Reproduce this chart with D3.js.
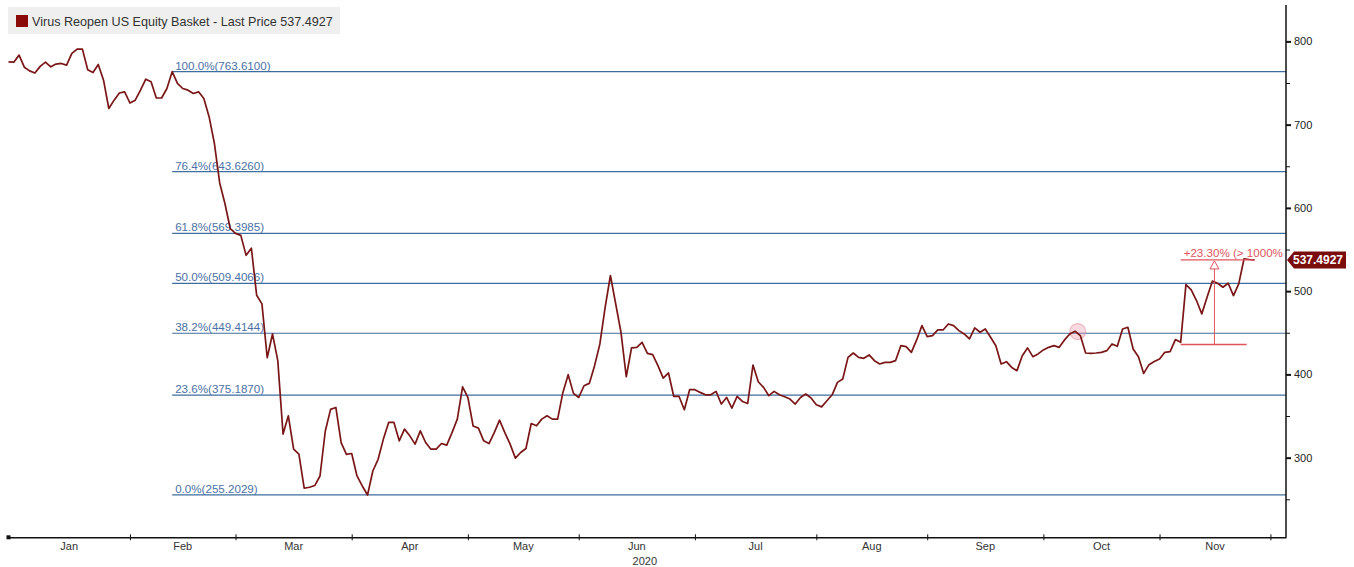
<!DOCTYPE html>
<html><head><meta charset="utf-8">
<script src="https://cdn.jsdelivr.net/npm/d3@7"></script>
<style>
body{margin:0;background:#fff;}
svg{display:block;font-family:"Liberation Sans",Arial,sans-serif;}
</style>
</head><body>
<svg id="chart" width="1354" height="567"></svg>
<script>
// ---------- data ----------
const seriesName = "Virus Reopen US Equity Basket - Last Price 537.4927";
const startDate = "2020-01-01";   // first weekday of the series (one value per weekday)
const values = [
775.5,775,783.5,769,764.6,762,770,775,769.5,772.7,
773.5,771.5,785.5,790.7,790.7,766,762.6,772.3,753.4,719.4,
729.4,738,739.4,726,729.4,741.4,754.6,751.4,732,732,
743.4,763.61,749.5,743.4,741.4,737.4,739.4,731.4,709.3,677.3,
630,605,575,569.4,567,543,551.6,495,484.7,420,
448.6,416.5,328.3,350.3,310.2,304.2,263.3,264.5,266.5,278,
332,358,360.3,318,304,305,278,266,255.2,284,
298,322.3,342.3,342.3,320.2,334.3,326.2,316.3,332.2,318.2,
310.2,310.2,317,315,330,346.3,385,372.3,338,335.5,
320.2,317,330,345,330,316.3,299.4,306.2,311,341,
338.3,346.3,350.3,346.3,346.3,378.4,399.7,377.2,372.3,386.4,
389.2,410.5,436.6,480.6,518.8,484.7,450.6,397.2,431.8,432.5,
438.5,425.3,423.7,410.5,395.6,401.7,373.5,373.5,357.5,381.6,
381.6,378.4,375.5,375.5,379.6,364.4,372.3,359.6,373.5,367.5,
365.1,411.3,391.2,384.4,374.4,379.6,375.5,373.2,370.4,364.4,
372.3,376.4,371.6,363.5,361,368.3,375.5,390.4,394.5,420.5,
425.7,420.5,419.3,423.4,416.5,412.5,414.5,414.5,416.5,434.5,
433.3,426.5,441.4,458.6,445.3,446.6,453.4,453.4,460.6,458.6,
452.6,448.6,442.6,455.8,450.6,454.6,444.6,434.5,412.5,415.3,
408.4,404.5,422.5,431.8,421.3,424.6,429.4,432.5,434.5,432.5,
441.4,448.6,451.8,446.6,425.7,425.2,425.7,426.5,428.5,436.6,
433.7,454.6,456.6,430.6,421.3,401.2,411.7,415.6,418.5,426.5,
427.3,441.8,438.5,507.9,501.6,488.7,472.7,492.7,512,509.5,
504.7,509.5,494.7,508.8,538.9,538,537.4927
];
const fibPercents = [100, 76.4, 61.8, 50, 38.2, 23.6, 0];
const fibValues   = [763.61, 643.626, 569.3985, 509.4066, 449.4144, 375.187, 255.2029];
const fibStartIndex = 31;
const yTicks = [300, 400, 500, 600, 700, 800];
const yMinorTicks = [250, 350, 450, 550, 650, 750];
const monthLabels = ["Jan","Feb","Mar","Apr","May","Jun","Jul","Aug","Sep","Oct","Nov"];
const yearLabel = "2020";
const lastPrice = 537.4927;
const changeText = "+23.30% (> 1000%";
const changePct = 23.30;
const changeStartIndex = 222;
const changeBaseEndIndex = 234.5;
const changeArrowIndex = 228.4;
const touchIndex = 202.5;
const touchValue = 451.5;

// ---------- weekday calendar (x positions are weekday indices) ----------
const weekdays = [];
{
  const d = new Date(startDate + "T00:00:00");
  while (d.getFullYear() === 2020) {
    const wd = d.getDay();
    if (wd !== 0 && wd !== 6) weekdays.push(new Date(d));
    d.setDate(d.getDate() + 1);
  }
}
const monthStart = [];
weekdays.forEach((d, i) => { if (monthStart[d.getMonth()] === undefined) monthStart[d.getMonth()] = i; });

// ---------- layout ----------
const svg = d3.select("#chart");
const plotLeft = 8.5, axisX = 1286, axisY = 537.3, plotTop = 5;
const step = 5.28;
const x = d3.scaleLinear().domain([0, (axisX - plotLeft) / step]).range([plotLeft, axisX]);
const y = d3.scaleLinear().domain([204.7, 843.7]).range([537, 5]);

const red = "#7a1616";
const fibColor = "#3f6d9e";
const fibText = "#4a72a6";
const annoRed = "#e0555c";

svg.append("defs").append("clipPath").attr("id", "plotclip")
  .append("rect").attr("x", 0).attr("y", 0).attr("width", axisX).attr("height", axisY);

// ---------- legend ----------
const lg = svg.append("g");
lg.append("rect").attr("x", 8).attr("y", 7).attr("width", 332).attr("height", 27).attr("fill", "#efefef");
lg.append("rect").attr("x", 16).attr("y", 15).attr("width", 12).attr("height", 12).attr("fill", "#8b0a0a");
lg.append("text").attr("x", 32).attr("y", 25.5).attr("font-size", 12.6).attr("fill", "#333")
  .text(seriesName);

// ---------- fib levels ----------
const fg = svg.append("g").attr("clip-path", "url(#plotclip)");
fibValues.forEach((v, i) => {
  fg.append("line")
    .attr("x1", x(fibStartIndex)).attr("x2", axisX)
    .attr("y1", y(v)).attr("y2", y(v))
    .attr("stroke", fibColor).attr("stroke-width", 1.2);
  fg.append("text")
    .attr("x", x(fibStartIndex) + 3).attr("y", y(v) - 2)
    .attr("font-size", 11.6).attr("fill", fibText)
    .text(fibPercents[i].toFixed(1) + "%(" + v.toFixed(4) + ")");
});

// ---------- touch marker ----------
svg.append("circle").attr("cx", x(touchIndex)).attr("cy", y(touchValue)).attr("r", 8)
  .attr("fill", "rgba(236,150,165,0.35)").attr("stroke", "rgba(225,140,155,0.55)").attr("stroke-width", 1.2);

// ---------- series line ----------
const line = d3.line().x((d, i) => x(i)).y(d => y(d));
svg.append("path").datum(values).attr("d", line)
  .attr("fill", "none").attr("stroke", red).attr("stroke-width", 1.7).attr("stroke-linejoin", "round");

// ---------- change annotation ----------
const ag = svg.append("g").attr("clip-path", "url(#plotclip)");
const baseVal = lastPrice / (1 + changePct / 100);
const lastIdx = values.length - 1;
ag.append("line").attr("x1", x(changeStartIndex)).attr("x2", x(lastIdx))
  .attr("y1", y(lastPrice)).attr("y2", y(lastPrice)).attr("stroke", annoRed).attr("stroke-width", 1.3);
ag.append("line").attr("x1", x(changeStartIndex)).attr("x2", x(changeBaseEndIndex))
  .attr("y1", y(baseVal)).attr("y2", y(baseVal)).attr("stroke", annoRed).attr("stroke-width", 1.3);
const ax = x(changeArrowIndex), ayTop = y(lastPrice);
ag.append("line").attr("x1", ax).attr("x2", ax).attr("y1", y(baseVal)).attr("y2", ayTop + 9)
  .attr("stroke", annoRed).attr("stroke-width", 1);
ag.append("path").attr("d", `M${ax},${ayTop + 1}L${ax - 4.5},${ayTop + 9}L${ax + 4.5},${ayTop + 9}Z`)
  .attr("fill", "#fff").attr("stroke", annoRed).attr("stroke-width", 1);
ag.append("text").attr("x", x(changeStartIndex) + 3).attr("y", ayTop - 3)
  .attr("font-size", 11.6).attr("fill", annoRed).text(changeText);

// ---------- x axis ----------
const tickIdx = monthStart.slice(1, 12);
const xAxis = d3.axisBottom(x).tickValues(tickIdx).tickFormat("").tickSizeInner(3).tickSizeOuter(0);
const xg = svg.append("g").attr("transform", `translate(0,${axisY})`).call(xAxis);
xg.select(".domain").attr("stroke", "#111").attr("stroke-width", 1.5);
xg.selectAll(".tick line").attr("stroke", "#111").attr("y1", -3).attr("y2", 3);
svg.append("rect").attr("x", plotLeft - 2).attr("y", axisY - 2).attr("width", 4).attr("height", 4).attr("fill", "#111");
const bounds = [0].concat(tickIdx);
monthLabels.forEach((m, i) => {
  const cx = (x(bounds[i]) + x(bounds[i + 1])) / 2;
  svg.append("text").attr("x", cx).attr("y", axisY + 13).attr("text-anchor", "middle")
    .attr("font-size", 11).attr("fill", "#333").text(m);
  if (m === "Jun") {
    svg.append("text").attr("x", cx + 8).attr("y", axisY + 28).attr("text-anchor", "middle")
      .attr("font-size", 11).attr("fill", "#333").text(yearLabel);
  }
});

// ---------- right y axis ----------
svg.append("line").attr("x1", axisX).attr("x2", axisX).attr("y1", plotTop).attr("y2", axisY)
  .attr("stroke", "#111").attr("stroke-width", 1.5);
const yAxis = d3.axisRight(y).tickValues(yTicks).tickSize(5).tickPadding(3);
const yg = svg.append("g").attr("transform", `translate(${axisX},0)`).call(yAxis);
yg.select(".domain").remove();
yg.selectAll(".tick line").attr("stroke", "#111").attr("stroke-width", 2);
yg.selectAll(".tick text").attr("font-size", 11).attr("fill", "#222")
  .attr("font-family", "'Liberation Sans',Arial,sans-serif");
const yAxisMinor = d3.axisRight(y).tickValues(yMinorTicks).tickSize(4).tickFormat("");
const ym = svg.append("g").attr("transform", `translate(${axisX},0)`).call(yAxisMinor);
ym.select(".domain").remove();
ym.selectAll(".tick line").attr("stroke", "#111").attr("stroke-width", 1);

// ---------- last price tag ----------
const ty = y(lastPrice);
svg.append("path")
  .attr("d", `M${axisX + 1},${ty}L${axisX + 8},${ty - 8.5}L1346,${ty - 8.5}L1346,${ty + 8.5}L${axisX + 8},${ty + 8.5}Z`)
  .attr("fill", "#7a0c0c");
svg.append("text").attr("x", 1318).attr("y", ty + 4.2).attr("text-anchor", "middle")
  .attr("font-size", 12).attr("font-weight", "bold").attr("fill", "#fff").text(lastPrice.toFixed(4));
</script>
</body></html>
